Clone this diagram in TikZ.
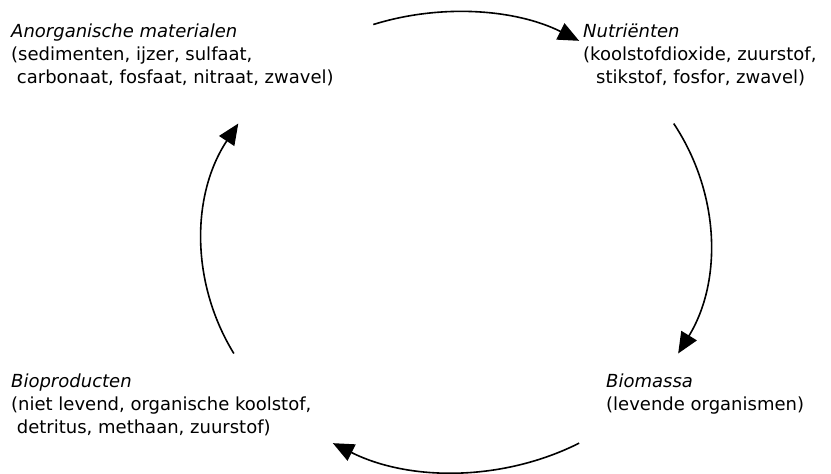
\documentclass[tikz,border=0pt]{standalone}
\usepackage{fontspec}
\setmainfont{DejaVu Sans}
\usetikzlibrary{arrows.meta}

\begin{document}
\begin{tikzpicture}[
    x=1pt, y=1pt,
    pool/.style={inner sep=0pt, anchor=north west, align=left, font=\fontsize{18}{23}\selectfont},
    flow/.style={line width=1.6pt, -{Triangle[length=21pt, width=18pt]}},
]
\useasboundingbox (0,0) rectangle (831,474);

% The four pools
\node[pool] (anorg) at (11,450) {\textit{Anorganische materialen}\\(sedimenten, ijzer, sulfaat,\\\ carbonaat, fosfaat, nitraat, zwavel)};
\node[pool] (nutr) at (583,450) {\textit{Nutriënten}\\(koolstofdioxide, zuurstof,\\\hspace*{13pt}stikstof, fosfor, zwavel)};
\node[pool] (biom) at (606,100) {\textit{Biomassa}\\(levende organismen)};
\node[pool] (biop) at (11,100) {\textit{Bioproducten}\\(niet levend, organische koolstof,\\\ detritus, methaan, zuurstof)};

% Cycle arrows on one ellipse
\coordinate (ctr) at (456,232);
\foreach \s/\e [count=\i] in {109/61, 31/-29, -61/-119, 209/149} {
    \coordinate (from\i) at ([shift={(\s:254pt and 230pt)}]ctr);
    \draw[flow] (from\i) arc[start angle=\s, end angle=\e, x radius=254pt, y radius=230pt];
}

\end{tikzpicture}
\end{document}
